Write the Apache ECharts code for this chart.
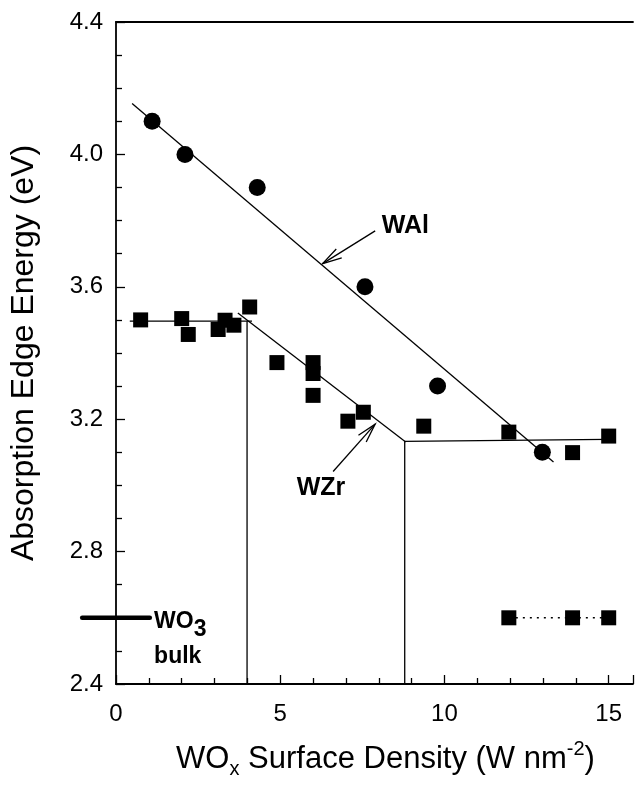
<!DOCTYPE html>
<html><head><meta charset="utf-8">
<script src="https://cdn.jsdelivr.net/npm/echarts@6/dist/echarts.min.js"></script>
<style>html,body{margin:0;padding:0;background:#fff}#c{width:636px;height:791px}</style>
</head><body><div id="c"></div>
<script>
// ---- data ----
const xTickLabels = [0, 5, 10, 15];
const yTickLabels = [2.4, 2.8, 3.2, 3.6, 4.0, 4.4];
// WAl (circles)
const walX = [1.10, 2.10, 4.30, 7.58, 9.79, 12.98];
const walY = [4.10, 4.00, 3.90, 3.60, 3.30, 3.10];
// WZr (squares)
const wzrX = [0.75, 2.00, 2.20, 3.11, 3.32, 3.59, 4.07, 4.90, 6.00, 6.00, 6.00, 7.06, 7.53, 9.37, 11.96, 13.90, 15.00];
const wzrY = [3.500, 3.504, 3.456, 3.471, 3.499, 3.484, 3.539, 3.371, 3.371, 3.338, 3.272, 3.194, 3.221, 3.179, 3.161, 3.099, 3.149];
// reference squares with dotted line
const refX = [11.96, 13.90, 15.00];
const refY = [2.60, 2.60, 2.60];
// WO3 bulk reference bar
const bulkX = [-1.03, 1.03];
const bulkY = [2.60, 2.60];
// fit lines
const walFitX = [0.49, 13.32];
const walFitY = [4.154, 3.071];
const wzrFlat1X = [0.42, 4.14];
const wzrFlat1Y = [3.496, 3.496];
const wzrVert1X = [3.99, 3.99];
const wzrVert1Y = [3.496, 2.40];
const wzrSlopeX = [3.71, 8.82];
const wzrSlopeY = [3.521, 3.131];
const wzrVert2X = [8.79, 8.79];
const wzrVert2Y = [3.131, 2.40];
const wzrFlat2X = [8.77, 14.95];
const wzrFlat2Y = [3.133, 3.139];
// annotations (data coords)
const walArrowTail = [7.89, 3.769], walArrowTip = [6.29, 3.670], walTextPos = [8.09, 3.783];
const wzrArrowTail = [6.61, 3.042], wzrArrowTip = [7.89, 3.185], wzrTextPos = [5.50, 2.993];
const bulkTextPos = [1.16, 2.600], bulkText2Pos = [1.16, 2.483];

const zip = (xs, ys) => xs.map((x, i) => [x, ys[i]]);
const FONT = '"Liberation Sans", Arial, sans-serif';

const chart = echarts.init(document.getElementById('c'), null, {renderer: 'canvas'});

function lineSeries(xs, ys, extra) {
  return Object.assign({
    type: 'line', data: zip(xs, ys), symbol: 'none', silent: true,
    lineStyle: {color: '#000', width: 1.3}, z: 2, animation: false
  }, extra || {});
}

const option = {
  animation: false,
  backgroundColor: '#fff',
  grid: {left: 114, right: 0, top: 22, bottom: 107, containLabel: false},
  xAxis: [{
    type: 'value', min: 0, max: 15.74, interval: 5,
    name: '{a|WO}{sub|x}{a| Surface Density (W nm}{sup|-2}{a|)}',
    nameLocation: 'middle', nameGap: 55,
    nameTextStyle: {
      padding: [0, 0, 0, 22],
      rich: {
        a: {fontFamily: FONT, fontSize: 31, color: '#000', lineHeight: 40},
        sub: {fontFamily: FONT, fontSize: 20, color: '#000', lineHeight: 20, verticalAlign: 'bottom'},
        sup: {fontFamily: FONT, fontSize: 20, color: '#000', lineHeight: 20, verticalAlign: 'top'}
      }
    },
    axisLine: {show: true, lineStyle: {color: '#000', width: 1.8}},
    axisTick: {show: true, inside: true, length: 9, lineStyle: {color: '#000', width: 1.3}},
    minorTick: {show: true, splitNumber: 5, length: 6, lineStyle: {color: '#000', width: 1.3}},
    axisLabel: {
      fontFamily: FONT, fontSize: 24, color: '#000', margin: 18,
      formatter: v => (xTickLabels.indexOf(Math.round(v * 1000) / 1000) >= 0 ? String(v) : '')
    },
    splitLine: {show: false}
  }, {
    type: 'value', position: 'top', min: 0, max: 15.74,
    axisLine: {show: true, onZero: false, lineStyle: {color: '#000', width: 1.8}},
    axisTick: {show: false}, axisLabel: {show: false}, splitLine: {show: false}
  }],
  yAxis: {
    type: 'value', min: 2.4, max: 4.4, interval: 0.4,
    name: 'Absorption Edge Energy (eV)',
    nameLocation: 'middle', nameGap: 76,
    nameTextStyle: {fontFamily: FONT, fontSize: 32, color: '#000'},
    axisLine: {show: true, onZero: false, lineStyle: {color: '#000', width: 1.8}},
    axisTick: {show: true, inside: true, length: 9, lineStyle: {color: '#000', width: 1.3}},
    minorTick: {show: true, splitNumber: 4, length: 6, lineStyle: {color: '#000', width: 1.3}},
    axisLabel: {
      fontFamily: FONT, fontSize: 24, color: '#000', margin: 13,
      formatter: v => {
        const r = Math.round(v * 10) / 10;
        return yTickLabels.some(t => Math.abs(t - r) < 1e-6) ? r.toFixed(1) : '';
      }
    },
    splitLine: {show: false}
  },
  series: [
    lineSeries(walFitX, walFitY),
    lineSeries(wzrFlat1X, wzrFlat1Y),
    lineSeries(wzrVert1X, wzrVert1Y),
    lineSeries(wzrSlopeX, wzrSlopeY),
    lineSeries(wzrVert2X, wzrVert2Y),
    lineSeries(wzrFlat2X, wzrFlat2Y),
    lineSeries(refX, refY, {symbol: 'rect', symbolSize: 15, showSymbol: true,
      itemStyle: {color: '#000', opacity: 1}, lineStyle: {color: '#000', width: 1.5, type: [2, 5]}, z: 3}),
    {type: 'scatter', name: 'WAl', data: zip(walX, walY), symbol: 'circle', symbolSize: 17,
      itemStyle: {color: '#000', opacity: 1}, z: 4, silent: true},
    {type: 'scatter', name: 'WZr', data: zip(wzrX, wzrY), symbol: 'rect', symbolSize: 15,
      itemStyle: {color: '#000', opacity: 1}, z: 4, silent: true}
  ]
};
chart.setOption(option);

function px(p) { return chart.convertToPixel({gridIndex: 0}, p); }
function arrow(tail, tip) {
  const a = px(tail), b = px(tip);
  const ang = Math.atan2(a[1] - b[1], a[0] - b[0]);
  const L = 20, s = 15 * Math.PI / 180;
  const h1 = [b[0] + L * Math.cos(ang + s), b[1] + L * Math.sin(ang + s)];
  const h2 = [b[0] + L * Math.cos(ang - s), b[1] + L * Math.sin(ang - s)];
  return [
    {type: 'polyline', shape: {points: [a, b]}, style: {stroke: '#000', lineWidth: 1.3, fill: null}, z: 10},
    {type: 'polyline', shape: {points: [h1, b, h2]}, style: {stroke: '#000', lineWidth: 1.3, fill: null}, z: 10}
  ];
}
const tWal = px(walTextPos), tWzr = px(wzrTextPos), tB1 = px(bulkTextPos), tB2 = px(bulkText2Pos);
const bulkPts = zip(bulkX, bulkY).map(px);
const graphics = [].concat(
  arrow(walArrowTail, walArrowTip),
  arrow(wzrArrowTail, wzrArrowTip),
  [
    {type: 'polyline', shape: {points: bulkPts}, style: {stroke: '#000', lineWidth: 4.5, lineCap: 'round', fill: null}, z: 10},
    {type: 'text', x: tWal[0], y: tWal[1], z: 10, style: {text: 'WAl', font: 'bold 25px ' + FONT, fill: '#000', verticalAlign: 'middle'}},
    {type: 'text', x: tWzr[0], y: tWzr[1], z: 10, style: {text: 'WZr', font: 'bold 25px ' + FONT, fill: '#000', verticalAlign: 'middle'}},
    {type: 'text', x: tB1[0], y: tB1[1] + 4, z: 10, style: {
      text: '{a|WO}{s|3}', verticalAlign: 'middle',
      rich: {
        a: {fontFamily: FONT, fontWeight: 'bold', fontSize: 23, fill: '#000', lineHeight: 38, verticalAlign: 'middle'},
        s: {fontFamily: FONT, fontWeight: 'bold', fontSize: 23, fill: '#000', lineHeight: 24, verticalAlign: 'bottom'}
      }}},
    {type: 'text', x: tB2[0], y: tB2[1], z: 10, style: {text: 'bulk', fontFamily: FONT, fontWeight: 'bold', fontSize: 23, fill: '#000', verticalAlign: 'middle'}}
  ]
);
chart.setOption({graphic: graphics});
</script>
</body></html>
